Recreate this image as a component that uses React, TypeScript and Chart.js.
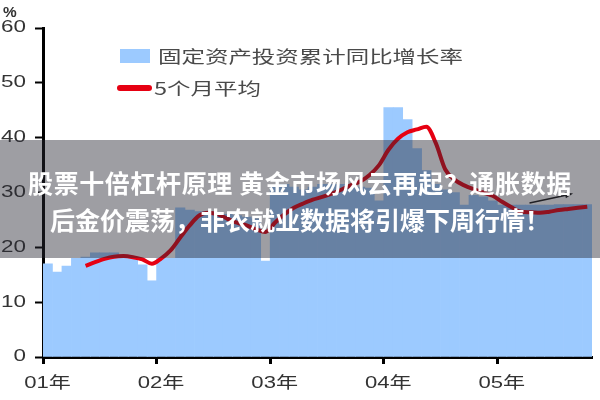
import React, { useEffect, useRef } from 'react';
import { Chart, registerables } from 'chart.js';

Chart.register(...registerables);

// ---------- data ----------
const yearLabels = ['01年', '02年', '03年', '04年', '05年'];
const unitLabel = '%';
const barSeriesName = '固定资产投资累计同比增长率';
const lineSeriesName = '5个月平均';
const bannerLine1 = '股票十倍杠杆原理 黄金市场风云再起？通胀数据';
const bannerLine2 = '后金价震荡，非农就业数据将引爆下周行情！';

// monthly cumulative YoY growth (%), Jan 2001 .. Oct 2005
const growth2001 = [17.0, 15.5, 16.6, 18.0, 18.2, 19.0, 19.0, 19.0, 18.6, 18.2, 16.8, 13.9];
const growth2002 = [18.0, 18.0, 27.2, 26.8, 26.5, 26.5, 26.3, 26.0, 25.8, 25.5, 25.2, 17.5];
const growth2003 = [31.0, 31.5, 31.0, 30.5, 31.0, 31.5, 31.5, 31.5, 31.2, 31.0, 30.8, 28.5];
const growth2004 = [45.5, 45.5, 43.3, 38.0, 34.0, 31.5, 30.5, 30.0, 27.7, 29.5, 29.2, 28.5];
const growth2005 = [27.7, 27.7, 27.7, 27.7, 27.7, 27.7, 27.8, 27.8, 27.8, 27.8];
const growth = [...growth2001, ...growth2002, ...growth2003, ...growth2004, ...growth2005];

// 5-month average, starting at the 5th month
const avgStartIndex = 4;
const avg5 = [
  16.6, 17.3, 17.9, 18.3, 18.4, 18.2, 17.8, 17.0,
  18.0, 19.5, 21.8, 24.0, 25.8, 26.3, 26.0, 25.2, 24.5, 24.0, 23.3, 22.8,
  24.5, 26.0, 27.2, 28.0, 28.7, 29.2, 29.8, 30.5, 31.3, 32.0, 33.2, 35.0,
  37.8, 39.8, 41.0, 41.5, 42.0, 39.0, 34.2, 32.3, 31.3, 30.6, 30.0, 29.4,
  28.3, 27.3, 26.5, 26.4, 26.3, 26.5, 26.8, 27.0, 27.2, 27.4,
];

// small trend arrow annotation (month index, value)
const arrowFrom = { month: 51.4, value: 28.1 };
const arrowTo = { month: 56.0, value: 29.8 };

const BAR_COLOR = '#9ccaff';
const LINE_COLOR = '#e60012';
const TEXT_FONT = '"Liberation Sans", Arial, "Noto Sans CJK SC", sans-serif';

const stretchedLabels = {
  id: 'stretchedLabels',
  afterDatasetsDraw(chart: any) {
    const ctx = chart.ctx;
    const ys = chart.scales.y;
    const xs = chart.scales.x;
    const x1 = xs.getPixelForValue(arrowFrom.month);
    const y1 = ys.getPixelForValue(arrowFrom.value);
    const x2 = xs.getPixelForValue(arrowTo.month);
    const y2 = ys.getPixelForValue(arrowTo.value);
    const ang = Math.atan2(y2 - y1, x2 - x1);
    ctx.save();
    ctx.strokeStyle = '#1a1a1a';
    ctx.fillStyle = '#1a1a1a';
    ctx.lineWidth = 1.5;
    ctx.beginPath();
    ctx.moveTo(x1, y1);
    ctx.lineTo(x2 - 5 * Math.cos(ang), y2 - 5 * Math.sin(ang));
    ctx.stroke();
    ctx.beginPath();
    ctx.moveTo(x2, y2);
    ctx.lineTo(x2 - 8 * Math.cos(ang) + 3 * Math.sin(ang), y2 - 8 * Math.sin(ang) - 3 * Math.cos(ang));
    ctx.lineTo(x2 - 8 * Math.cos(ang) - 3 * Math.sin(ang), y2 - 8 * Math.sin(ang) + 3 * Math.cos(ang));
    ctx.closePath();
    ctx.fill();
    ctx.restore();
  },
  afterDraw(chart: any) {
    const ctx = chart.ctx;
    const ys = chart.scales.y;
    const xs = chart.scales.x;
    ctx.save();
    ctx.fillStyle = '#333';
    ctx.font = '16px ' + TEXT_FONT;
    ctx.textBaseline = 'middle';
    ys.ticks.forEach((t: any) => {
      const py = ys.getPixelForValue(t.value);
      ctx.save();
      ctx.translate(ys.right - 17, py);
      ctx.scale(1.4, 1);
      ctx.textAlign = 'right';
      ctx.fillText(String(t.label), 0, 0);
      ctx.restore();
    });
    xs.ticks.forEach((t: any) => {
      const px = xs.getPixelForValue(t.value);
      ctx.save();
      ctx.translate(px + 4.5, xs.top + 27);
      ctx.scale(1.38, 1);
      ctx.textAlign = 'center';
      ctx.fillText(String(t.label), 0, 0);
      ctx.restore();
    });
    ctx.save();
    ctx.font = 'bold 14px ' + TEXT_FONT;
    ctx.translate(3, ys.top - 15);
    ctx.scale(1.1, 1);
    ctx.textAlign = 'left';
    ctx.fillText(unitLabel, 0, 0);
    ctx.restore();
    ctx.restore();
  },
};

export default function App() {
  const canvasRef = useRef<HTMLCanvasElement | null>(null);

  useEffect(() => {
    const canvas = canvasRef.current;
    if (!canvas) return;
    const chart = new Chart(canvas, {
      data: {
        datasets: [
          {
            type: 'line',
            label: lineSeriesName,
            data: avg5.map((v, k) => ({ x: avgStartIndex + k + 0.5, y: v })),
            borderColor: LINE_COLOR,
            borderWidth: 4,
            pointRadius: 0,
            cubicInterpolationMode: 'monotone',
            order: 0,
          },
          {
            type: 'bar',
            label: barSeriesName,
            data: growth.map((v, i) => ({ x: i + 0.5, y: v })),
            backgroundColor: BAR_COLOR,
            borderWidth: 0,
            barPercentage: 1,
            categoryPercentage: 1,
            order: 1,
          },
        ],
      } as any,
      options: {
        responsive: false,
        animation: false,
        devicePixelRatio: 1,
        layout: { padding: { left: 0, right: 8, top: 28, bottom: 0 } },
        plugins: { legend: { display: false }, tooltip: { enabled: false } },
        scales: {
          x: {
            type: 'linear',
            min: 0,
            max: growth.length,
            offset: false,
            afterBuildTicks: (scale: any) => {
              scale.ticks = yearLabels.map((_, k) => ({ value: k * 12 }));
            },
            afterFit: (scale: any) => {
              scale.height = 43;
            },
            ticks: {
              display: false,
              callback: (v: any) => yearLabels[Math.round(Number(v) / 12)] ?? '',
            },
            grid: {
              drawOnChartArea: false,
              drawTicks: true,
              tickLength: 7,
              tickWidth: 3,
              tickColor: '#000',
              offset: false,
            },
            border: { display: true, color: '#000', width: 3 },
          },
          y: {
            type: 'linear',
            min: 0,
            max: 60,
            afterBuildTicks: (scale: any) => {
              const vals = [];
              for (let v = 0; v <= 60; v += 10) vals.push({ value: v });
              scale.ticks = vals;
            },
            afterFit: (scale: any) => {
              scale.width = 43;
            },
            ticks: { display: false, stepSize: 10 },
            grid: {
              drawOnChartArea: false,
              drawTicks: true,
              tickLength: 8,
              tickWidth: 2,
              tickColor: '#000',
            },
            border: { display: true, color: '#000', width: 3 },
          },
        },
      } as any,
      plugins: [stretchedLabels],
    });
    return () => chart.destroy();
  }, []);

  const legendText: React.CSSProperties = {
    position: 'absolute',
    fontFamily: '"Noto Sans CJK SC", sans-serif',
    fontSize: 17,
    color: '#4a4a4a',
    transform: 'scaleX(1.38)',
    transformOrigin: 'left center',
    whiteSpace: 'nowrap',
    lineHeight: '20px',
  };

  return (
    <div style={{ position: 'fixed', left: 0, top: 0, width: 600, height: 400, background: '#fff', overflow: 'hidden' }}>
      <canvas ref={canvasRef} width={600} height={400} style={{ position: 'absolute', left: 0, top: 0 }} />
      {/* legend */}
      <div style={{ position: 'absolute', left: 120, top: 49, width: 30, height: 14, background: BAR_COLOR }} />
      <div style={{ ...legendText, left: 158, top: 46 }}>{barSeriesName}</div>
      <div style={{ position: 'absolute', left: 117, top: 85, width: 35, height: 6, borderRadius: 3, background: LINE_COLOR }} />
      <div style={{ ...legendText, left: 154, top: 78 }}>{lineSeriesName}</div>
      {/* banner */}
      <div
        style={{
          position: 'absolute',
          left: 0,
          top: 140,
          width: 600,
          height: 118,
          background: 'rgba(40,40,50,0.45)',
          color: '#fff',
          fontFamily: '"Noto Sans CJK SC", sans-serif',
          fontWeight: 700,
          fontSize: 25,
          textAlign: 'center',
          lineHeight: '37px',
          paddingTop: 24,
          boxSizing: 'border-box',
          whiteSpace: 'nowrap',
        }}
      >
        <div style={{ letterSpacing: 0.6 }}>{bannerLine1}</div>
        <div>{bannerLine2}</div>
      </div>
    </div>
  );
}
